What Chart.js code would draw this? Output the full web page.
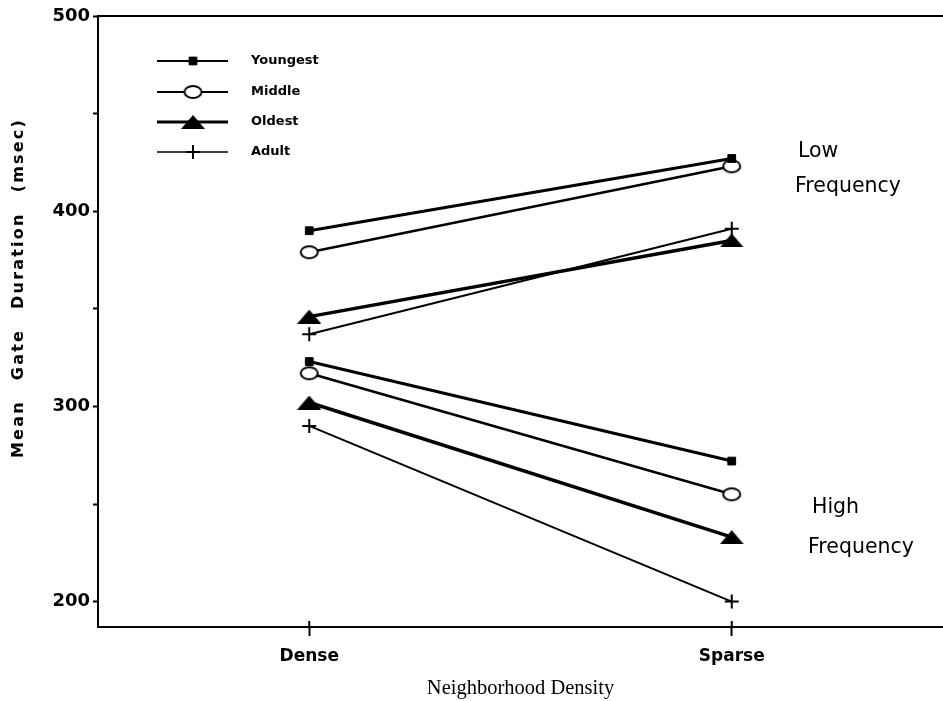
<!DOCTYPE html>
<html>
<head>
<meta charset="utf-8">
<script src="https://cdn.jsdelivr.net/npm/chart.js@4.4.1/dist/chart.umd.min.js"></script>
<style>
  html, body { margin: 0; padding: 0; background: #fff; }
  #wrap { width: 943px; height: 701px; position: relative; }
</style>
</head>
<body>
<div id="wrap"><canvas id="c" width="943" height="701"></canvas></div>
<script>
// ---- data ----
const categories = ['Dense', 'Sparse'];
const groups = ['Youngest', 'Middle', 'Oldest', 'Adult'];
const youngestLow = [390, 427];
const middleLow = [379, 423];
const oldestLow = [346, 385];
const adultLow = [337, 391];
const youngestHigh = [323, 272];
const middleHigh = [317, 255];
const oldestHigh = [302, 233];
const adultHigh = [290, 200];
const yTickValues = [200, 250, 300, 350, 400, 450, 500];
const yTickLabels = ['200', '', '300', '', '400', '', '500'];
const yTitle = 'Mean Gate Duration (msec)';
const xTitle = 'Neighborhood Density';
const lowLabel = ['Low', 'Frequency'];
const highLabel = ['High', 'Frequency'];

// ---- marker images ----
function makeEllipse(w, h, lw) {
  const c = document.createElement('canvas');
  c.width = w + 2 * lw; c.height = h + 2 * lw;
  const g = c.getContext('2d');
  g.fillStyle = '#fff'; g.strokeStyle = '#000'; g.lineWidth = lw;
  g.beginPath();
  g.ellipse(c.width / 2, c.height / 2, w / 2, h / 2, 0, 0, Math.PI * 2);
  g.fill(); g.stroke();
  return c;
}
function makeTriangle(w, h) {
  const c = document.createElement('canvas');
  c.width = w; c.height = h;
  const g = c.getContext('2d');
  g.fillStyle = '#000';
  g.beginPath();
  g.moveTo(w / 2, 0); g.lineTo(w, h); g.lineTo(0, h); g.closePath();
  g.fill();
  return c;
}
const ellipseImg = makeEllipse(17, 12, 2);
const triangleImg = makeTriangle(24, 14);

const styles = [
  { pointStyle: 'rect', pointRadius: 5.5, borderWidth: 3, pointBorderWidth: 1, legendWidth: 2 },
  { pointStyle: ellipseImg, pointRadius: 9, borderWidth: 2.5, pointBorderWidth: 0, legendWidth: 2 },
  { pointStyle: triangleImg, pointRadius: 10, borderWidth: 3.5, pointBorderWidth: 0, legendWidth: 3 },
  { pointStyle: 'cross', pointRadius: 7, borderWidth: 2, pointBorderWidth: 2, legendWidth: 1.5 }
];
const lowSeries = [youngestLow, middleLow, oldestLow, adultLow];
const highSeries = [youngestHigh, middleHigh, oldestHigh, adultHigh];

function mkDs(name, values, s, freq) {
  return {
    label: name + ' ' + freq,
    data: values,
    borderColor: '#000',
    backgroundColor: '#000',
    borderWidth: s.borderWidth,
    pointStyle: s.pointStyle,
    pointRadius: s.pointRadius,
    pointBorderWidth: s.pointBorderWidth,
    pointBackgroundColor: '#000',
    pointBorderColor: '#000',
    tension: 0,
    fill: false
  };
}
const datasets = [];
groups.forEach((g, i) => datasets.push(mkDs(g, lowSeries[i], styles[i], 'Low')));
groups.forEach((g, i) => datasets.push(mkDs(g, highSeries[i], styles[i], 'High')));

// ---- plugins ----
const decorPlugin = {
  id: 'decor',
  afterDraw(chart) {
    const ctx = chart.ctx;
    const a = chart.chartArea;
    ctx.save();
    // top frame line
    ctx.strokeStyle = '#000';
    ctx.lineWidth = 2;
    ctx.beginPath();
    ctx.moveTo(a.left, a.top);
    ctx.lineTo(a.right, a.top);
    ctx.stroke();
    // x ticks crossing into plot
    const xs = chart.scales.x;
    categories.forEach((c, i) => {
      const px = xs.getPixelForValue(i);
      ctx.beginPath();
      ctx.moveTo(px, a.bottom - 6);
      ctx.lineTo(px, a.bottom);
      ctx.stroke();
    });

    // y title
    ctx.fillStyle = '#000';
    ctx.font = 'bold 16px "DejaVu Sans"';
    ctx.letterSpacing = '2.2px';
    const natural = ctx.measureText(yTitle).width;
    const target = 340;
    const spaces = yTitle.split(' ').length - 1;
    ctx.wordSpacing = Math.max(0, (target - natural) / spaces) + 'px';
    ctx.translate(19, 288);
    ctx.rotate(-Math.PI / 2);
    ctx.textAlign = 'left';
    ctx.textBaseline = 'middle';
    ctx.fillText(yTitle, -target / 2, 0);
    ctx.setTransform(1, 0, 0, 1, 0, 0);
    ctx.letterSpacing = '0px';
    ctx.wordSpacing = '0px';

    // annotations
    ctx.font = '500 20.5px "DejaVu Sans"';
    ctx.textAlign = 'left';
    ctx.textBaseline = 'alphabetic';
    ctx.fillText(lowLabel[0], 798, 157);
    ctx.fillText(lowLabel[1], 795, 192);
    ctx.fillText(highLabel[0], 812, 513);
    ctx.fillText(highLabel[1], 808, 553);

    // legend
    const rowY = [61, 92, 122, 152];
    ctx.font = 'bold 13px "DejaVu Sans"';
    ctx.textBaseline = 'middle';
    groups.forEach((g, i) => {
      const s = styles[i];
      const y = rowY[i];
      ctx.strokeStyle = '#000';
      ctx.fillStyle = '#000';
      ctx.lineWidth = s.legendWidth;
      ctx.beginPath();
      ctx.moveTo(157, y);
      ctx.lineTo(228, y);
      ctx.stroke();
      ctx.lineWidth = s.pointBorderWidth || 1;
      Chart.helpers.drawPoint(ctx, {
        pointStyle: s.pointStyle,
        radius: s.pointRadius,
        rotation: 0,
        borderWidth: s.pointBorderWidth
      }, 193, y);
      ctx.fillStyle = '#000';
      ctx.fillText(g, 251, y);
    });
    ctx.restore();
  }
};

new Chart(document.getElementById('c'), {
  type: 'line',
  data: { labels: categories, datasets },
  plugins: [decorPlugin],
  options: {
    responsive: false,
    animation: false,
    events: [],
    layout: { autoPadding: false, padding: { top: 16, right: 0, left: 0, bottom: 0 } },
    plugins: { legend: { display: false }, tooltip: { enabled: false }, title: { display: false } },
    scales: {
      x: {
        type: 'category',
        offset: true,
        grid: { drawOnChartArea: false, offset: false, tickLength: 9, tickColor: '#000', tickWidth: 2 },
        border: { color: '#000', width: 2 },
        ticks: { color: '#000', padding: 10, font: { family: 'DejaVu Sans', size: 17, weight: 'bold' } },
        title: { display: true, text: xTitle, color: '#000', padding: { top: 0, bottom: 0 },
                 font: { family: 'Liberation Serif', size: 20.5 } },
        afterFit(axis) { axis.height = 74; }
      },
      y: {
        min: 187,
        max: 500,
        afterBuildTicks(axis) { axis.ticks = yTickValues.map(v => ({ value: v })); },
        grid: { drawOnChartArea: false, tickLength: 5, tickColor: '#000', tickWidth: 2 },
        border: { color: '#000', width: 2 },
        ticks: {
          autoSkip: false,
          color: '#000',
          padding: 3,
          font: { family: 'DejaVu Sans', size: 18, weight: 'bold' },
          callback(v) { const i = yTickValues.indexOf(v); return i >= 0 ? yTickLabels[i] : ''; }
        },
        afterFit(axis) { axis.width = 98; }
      }
    }
  }
});
</script>
</body>
</html>
